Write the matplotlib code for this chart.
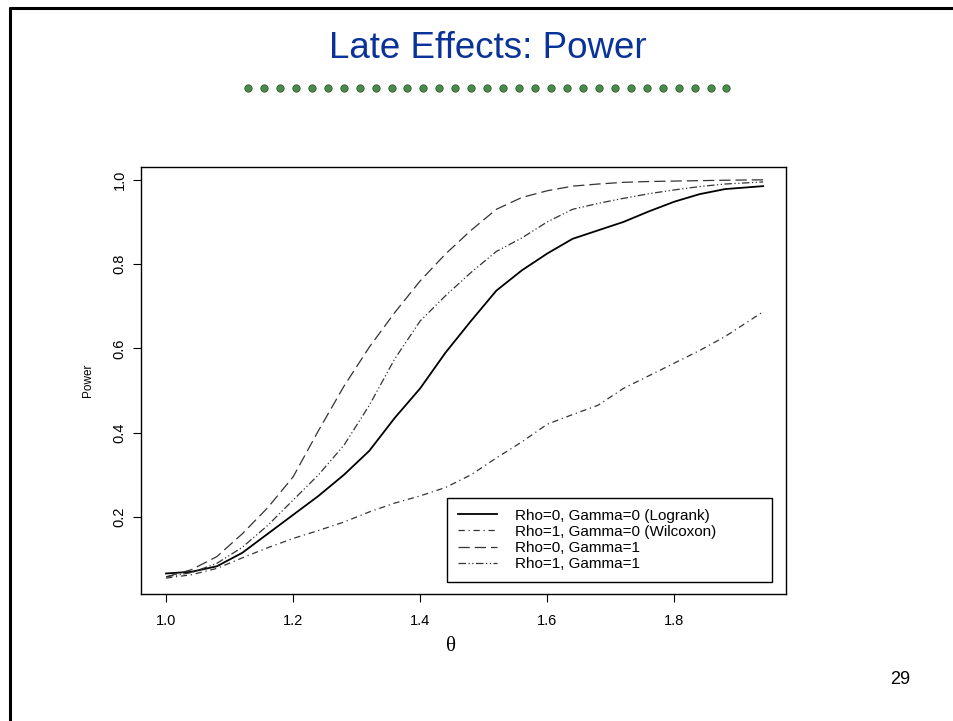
import numpy as np
import matplotlib
matplotlib.use('Agg')
import matplotlib.pyplot as plt

plt.rcParams['font.family'] = ['Liberation Sans', 'DejaVu Sans']

# theta values and simulated power for the four tests
theta = [1.00, 1.04, 1.08, 1.12, 1.16, 1.20, 1.24, 1.28, 1.32, 1.36, 1.40, 1.44,
         1.48, 1.52, 1.56, 1.60, 1.64, 1.68, 1.72, 1.76, 1.80, 1.84, 1.88, 1.94]
logrank = [0.066, 0.070, 0.083, 0.115, 0.160, 0.205, 0.250, 0.300, 0.357, 0.435, 0.505, 0.590,
           0.665, 0.737, 0.785, 0.825, 0.860, 0.880, 0.900, 0.925, 0.948, 0.966, 0.978, 0.985]
wilcoxon = [0.055, 0.063, 0.078, 0.103, 0.127, 0.149, 0.168, 0.188, 0.212, 0.233, 0.250, 0.270,
            0.300, 0.340, 0.378, 0.420, 0.443, 0.465, 0.505, 0.535, 0.565, 0.595, 0.628, 0.687]
rho0_gam1 = [0.058, 0.075, 0.106, 0.160, 0.222, 0.295, 0.405, 0.510, 0.603, 0.685, 0.760, 0.824,
             0.880, 0.930, 0.958, 0.974, 0.985, 0.990, 0.994, 0.996, 0.997, 0.998, 0.999, 1.000]
rho1_gam1 = [0.058, 0.068, 0.090, 0.128, 0.180, 0.240, 0.300, 0.370, 0.465, 0.575, 0.665, 0.725,
             0.780, 0.830, 0.862, 0.900, 0.930, 0.944, 0.956, 0.967, 0.976, 0.984, 0.990, 0.995]

labels = ["Rho=0, Gamma=0 (Logrank)", "Rho=1, Gamma=0 (Wilcoxon)",
          "Rho=0, Gamma=1", "Rho=1, Gamma=1"]
xticks = [1.0, 1.2, 1.4, 1.6, 1.8]
yticks = [0.2, 0.4, 0.6, 0.8, 1.0]

W, H = 954, 721
fig = plt.figure(figsize=(W / 100, H / 100), dpi=100)
fig.patch.set_facecolor('white')

# slide decorations (pixel coords)
deco = fig.add_axes([0, 0, 1, 1], zorder=0)
deco.set_xlim(0, W)
deco.set_ylim(H, 0)
deco.axis('off')
deco.plot([9, W], [7.5, 7.5], color='black', lw=2.2, solid_capstyle='butt')
deco.plot([10.5, 10.5], [7, H], color='black', lw=2.2, solid_capstyle='butt')
dot_x = 248 + 15.95 * np.arange(31)
deco.scatter(dot_x, np.full(len(dot_x), 88), s=28, color='#4b8b4b',
             edgecolors='#2c5a2c', linewidths=0.6)
deco.text(488, 48.5, "Late Effects: Power", color='#0a3399', fontsize=26.5,
          ha='center', va='center')
deco.text(900, 680, "29", fontsize=13, ha='center', va='center')

# main plot
ax = fig.add_axes([141 / W, 1 - 594 / H, 645 / W, 427 / H], zorder=1)
ax.plot(theta, logrank, color='black', lw=1.3, ls='-', label=labels[0])
ax.plot(theta, wilcoxon, color='#333333', lw=0.9, ls=(0, (5, 3, 1, 3)), label=labels[1])
ax.plot(theta, rho0_gam1, color='#333333', lw=0.9, ls=(0, (9, 4)), label=labels[2])
ax.plot(theta, rho1_gam1, color='#333333', lw=0.9, ls=(0, (6, 2, 1, 2, 1, 2)), label=labels[3])

ax.set_xlim(0.9606, 1.976)
ax.set_ylim(0.0173, 1.0304)
ax.set_xticks(xticks)
ax.set_xticklabels(["%.1f" % v for v in xticks])
ax.set_yticks(yticks)
ax.set_yticklabels(["%.1f" % v for v in yticks], rotation=90, va='center')
ax.tick_params(axis='both', direction='out', length=5.5, width=0.8, labelsize=10.5)
ax.tick_params(axis='x', pad=9)
ax.tick_params(axis='y', pad=5)
for s in ax.spines.values():
    s.set_linewidth(1.0)

ax.set_xlabel("θ", fontsize=15, family=['Liberation Serif', 'DejaVu Serif'])
ax.xaxis.set_label_coords(0.4806, -0.1234)
ax.xaxis.label.set_va('center')
ax.set_ylabel("Power", fontsize=8.5)
ax.yaxis.set_label_coords(-0.0822, 0.5)
ax.yaxis.label.set_va('center')

leg = ax.legend(loc='lower left', bbox_to_anchor=(0.4744, 0.0281, 0.5039, 0.199),
                mode='expand', borderaxespad=0, fontsize=11, frameon=True, fancybox=False,
                edgecolor='black', framealpha=1, borderpad=0.72, labelspacing=0.14,
                handlelength=2.55, handletextpad=1.18)
leg.get_frame().set_linewidth(1.0)

fig.savefig('out.png', dpi=100)
